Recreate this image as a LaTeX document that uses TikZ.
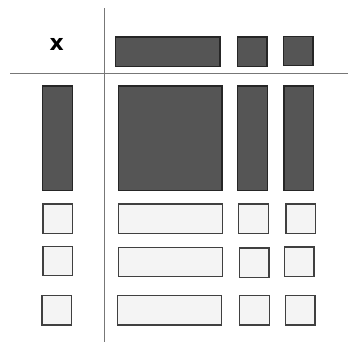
\documentclass[tikz,border=0pt]{standalone}
\usepackage{fontspec}
\setmainfont{DejaVu Sans}
\definecolor{dkfill}{HTML}{555555}
\definecolor{dkline}{HTML}{262626}
\definecolor{ltfill}{HTML}{F4F4F4}
\definecolor{ltline}{HTML}{404040}
\definecolor{rule}{HTML}{777777}
\begin{document}
\begin{tikzpicture}[x=1pt,y=-1pt,
  cell/.style={rectangle,inner sep=0pt,outer sep=0pt,line width=1.3pt},
  dk/.style={cell,fill=dkfill,draw=dkline},
  lt/.style={cell,fill=ltfill,draw=ltline},
  sq/.style={minimum width=29.7pt,minimum height=29.5pt},
  wide/.style={minimum width=104.2pt,minimum height=29.5pt},
  divider/.style={draw=rule,line width=0.9pt}]
\useasboundingbox (0,0) rectangle (348,343);
% dividers
\coordinate (vtop) at (104.3,8);
\coordinate (vbot) at (104.3,342);
\coordinate (hl) at (10,73);
\coordinate (hr) at (348,73);
\draw[divider] (vtop) -- (vbot);
\draw[divider] (hl) -- (hr);
% label
\node[font=\bfseries\fontsize{22}{22}\selectfont,inner sep=0pt,anchor=base] (x) at (56.8,50.3) {x};
% top row
\node[dk,wide] (t1) at (167.8,51.7) {};
\node[dk,sq] (t2) at (252,51.7) {};
\node[dk,sq] (t3) at (298.2,51) {};
% tall row
\node[dk,minimum width=30pt,minimum height=104.3pt] (a1) at (57.3,138.2) {};
\node[dk,minimum width=103.7pt,minimum height=104.3pt] (a2) at (170.2,138.2) {};
\node[dk,minimum width=29.6pt,minimum height=104.3pt] (a3) at (252.5,138.2) {};
\node[dk,minimum width=29.7pt,minimum height=104.3pt] (a4) at (298.8,138.2) {};
% light rows
\node[lt,sq] (b1) at (57.8,218.7) {};
\node[lt,wide] (b2) at (170.5,218.7) {};
\node[lt,sq] (b3) at (253.5,218.7) {};
\node[lt,sq] (b4) at (300.7,218.7) {};
\node[lt,sq] (c1) at (57.8,261) {};
\node[lt,wide] (c2) at (170.5,262) {};
\node[lt,sq] (c3) at (254,262.7) {};
\node[lt,sq] (c4) at (299.2,261.8) {};
\node[lt,sq] (d1) at (56.8,310.3) {};
\node[lt,wide] (d2) at (169.7,310.3) {};
\node[lt,sq] (d3) at (254.5,310.3) {};
\node[lt,sq] (d4) at (300.2,310.3) {};
\end{tikzpicture}
\end{document}
